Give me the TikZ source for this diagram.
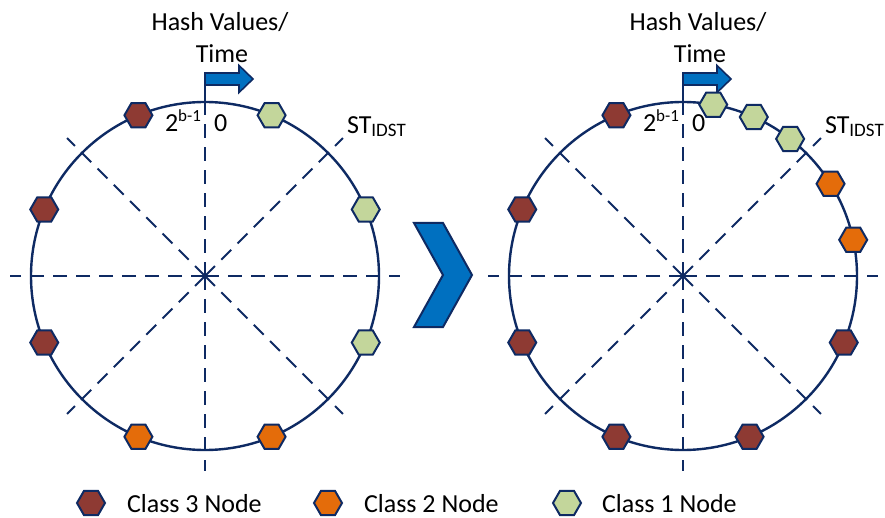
\documentclass[tikz,border=0pt]{standalone}
\usepackage{fontspec}
\setmainfont{Carlito}
\usetikzlibrary{shapes.geometric,calc}

\definecolor{navy}{HTML}{0E2A63}
\definecolor{flagblue}{HTML}{0070C0}
\definecolor{cthree}{HTML}{8E3A33}
\definecolor{ctwo}{HTML}{E46C0A}
\definecolor{cone}{HTML}{C3D69B}

\tikzset{
  hexnode/.style={regular polygon, regular polygon sides=6, minimum size=28pt,
    inner sep=0pt, outer sep=0pt, draw=navy, line width=2pt},
  classthree/.style={hexnode, fill=cthree},
  classtwo/.style={hexnode, fill=ctwo},
  classone/.style={hexnode, fill=cone},
  ring/.style={draw=navy, line width=2.4pt},
  ray/.style={draw=navy, line width=2pt, dash pattern=on 14pt off 9pt},
  pole/.style={draw=navy, line width=2pt},
  flag/.style={draw=navy, fill=flagblue, line width=1.6pt, line join=miter},
  lbl/.style={font=\fontsize{26}{31}\selectfont, inner sep=0pt, outer sep=0pt},
}

\begin{document}
\begin{tikzpicture}[x=1pt,y=1pt]
\useasboundingbox (0,0) rectangle (885,517);

% centres of the two rings
\coordinate (cL) at (205,241);
\coordinate (cR) at (683,241);

\foreach \r in {L,R} {
  % dashed spokes
  \foreach \a in {0,45,135,180,225,270,315}
    \draw[ray] (c\r) -- ++(\a:195);
  \draw[ray] (c\r) -- ++(90:174);
  % ring
  \draw[ring] (c\r) circle (174);
  % pole and flag arrow
  \coordinate (top\r) at ($(c\r)+(0,174)$);
  \coordinate (flag\r) at ($(c\r)+(0,203)$);
  \draw[flag] (flag\r) -- ++(34,0) -- ++(0,7.5) -- ++(14,-13.5) -- ++(-14,-13.5)
              -- ++(0,7.5) -- ++(-34,0) -- cycle;
  \draw[pole] (top\r) -- (flag\r);
  % labels
  \node[lbl, anchor=base] (hash\r) at ($(c\r)+(15,245)$) {Hash Values/};
  \node[lbl, anchor=base] (time\r) at ($(c\r)+(17,213)$) {Time};
  \node[lbl, anchor=base west] (max\r) at ($(c\r)+(-40,144)$)
    {2\raisebox{10pt}{\fontsize{17}{17}\selectfont b-1}};
  \node[lbl, anchor=base west] (zero\r) at ($(c\r)+(9,144)$) {0};
  \node[lbl, anchor=base west] (st\r) at ($(c\r)+(142,142)$)
    {ST\raisebox{-2.5pt}{\fontsize{19}{19}\selectfont IDST}};
}

% nodes on the left ring
\node[classone]   (L1) at ($(cL)+(22.5:174)$) {};
\node[classone]   (L2) at ($(cL)+(67.5:174)$) {};
\node[classone]   (L3) at ($(cL)+(-22.5:174)$) {};
\node[classtwo]   (L4) at ($(cL)+(-67.5:174)$) {};
\node[classtwo]   (L5) at ($(cL)+(247.5:174)$) {};
\node[classthree] (L6) at ($(cL)+(202.5:174)$) {};
\node[classthree] (L7) at ($(cL)+(157.5:174)$) {};
\node[classthree] (L8) at ($(cL)+(112.5:174)$) {};

% nodes on the right ring
\node[classone]   (R1) at ($(cR)+(80:174)$) {};
\node[classone]   (R2) at ($(cR)+(66:174)$) {};
\node[classone]   (R3) at ($(cR)+(52:174)$) {};
\node[classtwo]   (R4) at ($(cR)+(32:174)$) {};
\node[classtwo]   (R5) at ($(cR)+(12:174)$) {};
\node[classthree] (R6) at ($(cR)+(-22.5:174)$) {};
\node[classthree] (R7) at ($(cR)+(-67.5:174)$) {};
\node[classthree] (R8) at ($(cR)+(247.5:174)$) {};
\node[classthree] (R9) at ($(cR)+(202.5:174)$) {};
\node[classthree] (R10) at ($(cR)+(157.5:174)$) {};
\node[classthree] (R11) at ($(cR)+(112.5:174)$) {};

% chevron between the rings
\draw[flag, line width=2pt] (414,294) -- (443,294) -- (472,242) -- (443,190)
  -- (414,190) -- (443,242) -- cycle;

% legend
\node[classthree] (k3) at (91,14) {};
\node[lbl, anchor=base west] (k3t) at (127,5) {Class 3 Node};
\node[classtwo] (k2) at (328,14) {};
\node[lbl, anchor=base west] (k2t) at (364,5) {Class 2 Node};
\node[classone] (k1) at (567,14) {};
\node[lbl, anchor=base west] (k1t) at (602,5) {Class 1 Node};
\end{tikzpicture}
\end{document}
